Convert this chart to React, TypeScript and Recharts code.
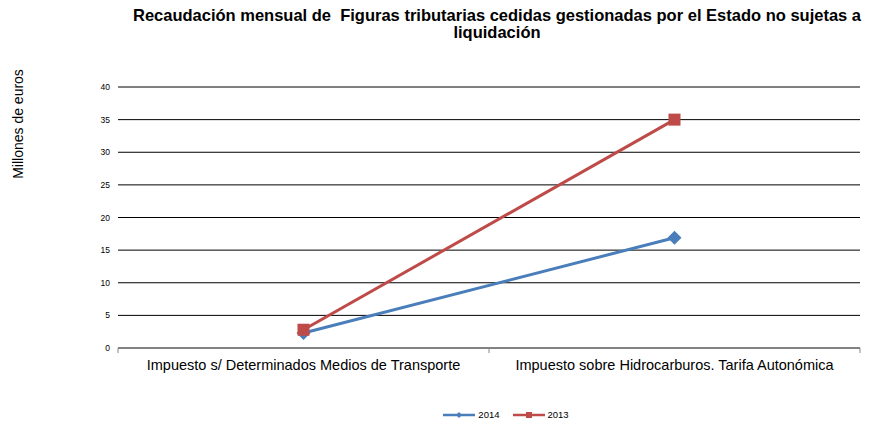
import React from 'react';
import { LineChart, Line, XAxis, YAxis, CartesianGrid, Legend } from 'recharts';

const categories = [
  'Impuesto s/ Determinados Medios de Transporte',
  'Impuesto sobre Hidrocarburos. Tarifa Autonómica',
];
const values2014 = [2.3, 16.9];
const values2013 = [2.8, 35.0];
const yTicks = [0, 5, 10, 15, 20, 25, 30, 35, 40];

const data = categories.map((name, i) => ({
  name,
  y2014: values2014[i],
  y2013: values2013[i],
}));

const W = 871;
const H = 426;
const margin = { top: 87, right: 11, bottom: 48, left: 0 };
const Y_AXIS_W = 118;
const FONT = 'Liberation Sans, Arial, sans-serif';
const BLUE = '#4A7EBB';
const RED = '#BE4B48';

// Excel-style category axis: each category sits in the middle of its band
const halfBand = (W - margin.left - margin.right - Y_AXIS_W) / (categories.length * 2);

const CategoryTick = (props: any) => {
  const { x, y, payload, index } = props;
  const isLast = index === categories.length - 1;
  return (
    <g>
      <line x1={x - halfBand} x2={x - halfBand} y1={y - 8} y2={y - 3} stroke="#868686" />
      {isLast && <line x1={x + halfBand} x2={x + halfBand} y1={y - 8} y2={y - 3} stroke="#868686" />}
      <text x={x} y={y + 14} textAnchor="middle" fontSize={14.5} fill="#000" fontFamily={FONT}>
        {payload.value}
      </text>
    </g>
  );
};

const Diamond = (props: any) => {
  const { cx, cy, size = 6, color } = props;
  if (cx == null || cy == null) return null;
  return <polygon points={`${cx},${cy - size} ${cx + size},${cy} ${cx},${cy + size} ${cx - size},${cy}`} fill={color} />;
};

const Square = (props: any) => {
  const { cx, cy, size = 6, color } = props;
  if (cx == null || cy == null) return null;
  return <rect x={cx - size} y={cy - size} width={size * 2} height={size * 2} fill={color} />;
};

const LegendContent = () => {
  const items = [
    { label: '2014', color: BLUE, shape: 'diamond' },
    { label: '2013', color: RED, shape: 'square' },
  ];
  return (
    <div style={{ display: 'flex', justifyContent: 'center', gap: 12, fontFamily: FONT, fontSize: 9.5, paddingLeft: 140 }}>
      {items.map((it) => (
        <div key={it.label} style={{ display: 'flex', alignItems: 'center' }}>
          <svg width={34} height={10}>
            <line x1={1} x2={33} y1={5} y2={5} stroke={it.color} strokeWidth={2.5} />
            {it.shape === 'diamond' ? (
              <Diamond cx={17} cy={5} size={3} color={it.color} />
            ) : (
              <Square cx={17} cy={5} size={3} color={it.color} />
            )}
          </svg>
          <span style={{ marginLeft: 2 }}>{it.label}</span>
        </div>
      ))}
    </div>
  );
};

const YLabel = () => (
  <text
    x={23}
    y={124}
    transform="rotate(-90 23 124)"
    textAnchor="middle"
    fontSize={14}
    fontFamily={FONT}
    fill="#000"
  >
    Millones de euros
  </text>
);

export default function App() {
  return (
    <div style={{ position: 'absolute', left: 0, top: 0, width: W, height: H, background: '#fff' }}>
      <div
        style={{
          position: 'absolute',
          left: 118,
          width: 758,
          top: 7,
          textAlign: 'center',
          fontFamily: FONT,
          fontWeight: 'bold',
          fontSize: 16.5,
          lineHeight: '17px',
          whiteSpace: 'pre-wrap',
          color: '#000',
        }}
      >
        {'Recaudación mensual de  Figuras tributarias cedidas gestionadas por el Estado no sujetas a\nliquidación'}
      </div>
      <LineChart width={W} height={H} data={data} margin={margin}>
        <CartesianGrid vertical={false} stroke="#000" strokeWidth={1} />
        <XAxis
          dataKey="name"
          height={30}
          padding={{ left: halfBand, right: halfBand }}
          axisLine={{ stroke: '#868686' }}
          tickLine={false}
          tick={<CategoryTick />}
          interval={0}
        />
        <YAxis
          width={Y_AXIS_W}
          domain={[0, 40]}
          ticks={yTicks}
          axisLine={false}
          tickLine={false}
          tickSize={6}
          tickMargin={2}
          tick={{ fontSize: 8.5, fill: '#000', fontFamily: FONT }}
          label={<YLabel />}
        />
        <Legend
          verticalAlign="middle"
          align="center"
          content={<LegendContent />}
          wrapperStyle={{ top: 409, left: 0, width: W }}
        />
        <Line
          dataKey="y2014"
          name="2014"
          stroke={BLUE}
          strokeWidth={3}
          isAnimationActive={false}
          dot={<Diamond size={7} color={BLUE} />}
          activeDot={false}
        />
        <Line
          dataKey="y2013"
          name="2013"
          stroke={RED}
          strokeWidth={3}
          isAnimationActive={false}
          dot={<Square size={6} color={RED} />}
          activeDot={false}
        />
      </LineChart>
    </div>
  );
}
